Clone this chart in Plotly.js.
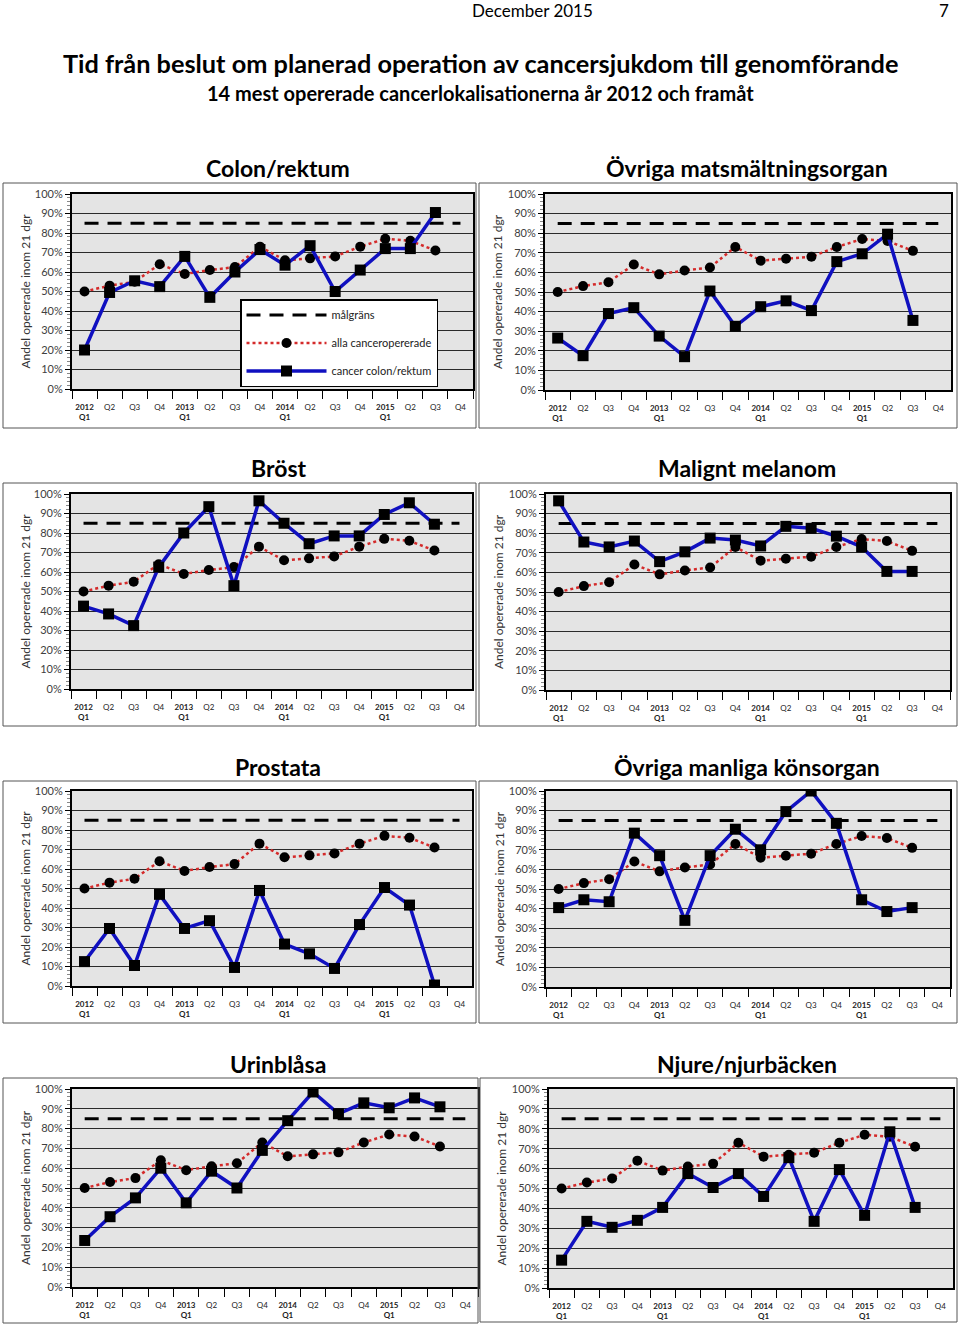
<!DOCTYPE html>
<html>
<head>
<meta charset="utf-8">
<script src="https://cdn.plot.ly/plotly-3.0.1.min.js"></script>
<style>
html,body{margin:0;padding:0;background:#fff;}
#chart{width:960px;height:1327px;}
</style>
</head>
<body>
<div id="chart"></div>
<script>
// ---------------- DATA ----------------
const quarters = ["2012 Q1","2012 Q2","2012 Q3","2012 Q4","2013 Q1","2013 Q2","2013 Q3","2013 Q4",
                  "2014 Q1","2014 Q2","2014 Q3","2014 Q4","2015 Q1","2015 Q2","2015 Q3","2015 Q4"];
const tickLabels = ["<b>2012</b><br><b>Q1</b>","Q2","Q3","Q4","<b>2013</b><br><b>Q1</b>","Q2","Q3","Q4",
                    "<b>2014</b><br><b>Q1</b>","Q2","Q3","Q4","<b>2015</b><br><b>Q1</b>","Q2","Q3","Q4"];
const malgrans = [85,85,85,85,85,85,85,85,85,85,85,85,85,85,85,85];
const allaCanceropererade = [50,53,55,64,59,61,62.5,73,66,67,68,73,77,76,71,null];

const colonRektum      = [20,49.5,55.5,52.5,68,47,60,71.5,63.5,73.5,50,61,72,72,90.5,null];
const ovrigaMatsmaltn  = [26.5,17.5,39,42,27.5,17,50.5,32.5,42.5,45.5,40.5,65.5,69.5,79.5,35.5,null];
const brost            = [42.5,38.5,32.5,62.5,80,93.5,53,96.5,85,74.5,78.5,78.5,89.5,95.5,84.5,null];
const maligntMelanom   = [96.5,75.5,73,76,65.5,70.5,77.5,76.5,73.5,83.5,82.5,78.5,73,60.5,60.5,null];
const prostata         = [12.5,29.5,10.5,47,29.5,33.5,9.5,49,21.5,16.5,9,31.5,50.5,41.5,0.5,null];
const ovrigaManliga    = [40.5,44.5,43.5,78.5,67,34,67,80.5,70,89.5,100,83.5,44.5,38.5,40.5,null];
const urinblasa        = [23.5,35.5,45,60,42.5,58.5,50,69,84,98.5,87.5,93,90.5,95.5,91,null];
const njure            = [14,33.5,30.5,34,40.5,57.5,50.5,57.5,46,65.5,33.5,59.5,36.5,78.5,40.5,null];

const panelTitles = ["Colon/rektum","Övriga matsmältningsorgan","Bröst","Malignt melanom",
                     "Prostata","Övriga manliga könsorgan","Urinblåsa","Njure/njurbäcken"];
const seriesNames = ["cancer colon/rektum","cancer övriga matsmältningsorgan","cancer bröst","malignt melanom",
                     "cancer prostata","cancer övriga manliga könsorgan","cancer urinblåsa","cancer njure/njurbäcken"];
const seriesValues = [colonRektum, ovrigaMatsmaltn, brost, maligntMelanom, prostata, ovrigaManliga, urinblasa, njure];

const headerText = "December 2015";
const pageNumber = "7";
const mainTitle = "Tid från beslut om planerad operation av cancersjukdom till genomförande";
const subTitle = "14 mest opererade cancerlokalisationerna år 2012 och framåt";
const yTitle = "Andel opererade inom 21 dgr";
const legendNames = ["målgräns","alla canceropererade"];

// ---------------- LAYOUT GEOMETRY (pixels) ----------------
const W = 960, H = 1327;
const px = x => x / W;
const py = y => 1 - y / H;
const geom = [
  {plot:[72,473,194,389],  box:[3,183,476,428],    ty:168,  yt:25,  tx:278},
  {plot:[545,951,194,390], box:[479,183,957,428],  ty:168,  yt:497, tx:747},
  {plot:[71,472,494,689],  box:[3,483,476,726],    ty:468,  yt:25,  tx:278},
  {plot:[546,950,494,690], box:[479,483,957,726],  ty:468,  yt:499, tx:747},
  {plot:[72,472,791,986],  box:[3,781,476,1023],   ty:767,  yt:25,  tx:278},
  {plot:[546,950,791,987], box:[479,781,957,1023], ty:767,  yt:499, tx:747},
  {plot:[72,478,1089,1287],box:[3,1078,478,1323],  ty:1064, yt:25,  tx:278},
  {plot:[549,953,1089,1288],box:[480,1078,957,1322],ty:1064,yt:501, tx:747}
];

const FONT = "Lato, 'Open Sans', sans-serif";
const BLUE = "#1010c0";
const RED = "#d42a2a";

const traces = [];
const layout = {
  width: W, height: H,
  margin: {l:0, r:0, t:0, b:0},
  paper_bgcolor: "#ffffff",
  plot_bgcolor: "#e4e4e4",
  font: {family: FONT, color: "#333"},
  showlegend: true,
  legend: {
    x: px(240), y: py(299), xanchor: "left", yanchor: "top",
    bgcolor: "#ffffff", bordercolor: "#000", borderwidth: 1.5,
    font: {size: 11, color: "#222", family: FONT},
    itemwidth: 80, tracegroupgap: 9, traceorder: "grouped"
  },
  shapes: [], annotations: []
};

geom.forEach((g, i) => {
  const n = i + 1;
  const xa = n === 1 ? "x" : "x" + n;
  const ya = n === 1 ? "y" : "y" + n;
  const xk = n === 1 ? "xaxis" : "xaxis" + n;
  const yk = n === 1 ? "yaxis" : "yaxis" + n;
  const first = i === 0;

  traces.push({
    x: quarters, y: malgrans, xaxis: xa, yaxis: ya, type: "scatter", mode: "lines",
    name: legendNames[0], showlegend: first, legendgroup: "g1_" + n, hoverinfo: "skip",
    line: {color: "#000", width: 3, dash: "14px,9px"}
  });
  traces.push({
    x: quarters, y: allaCanceropererade, xaxis: xa, yaxis: ya, type: "scatter", mode: "lines+markers",
    name: legendNames[1], showlegend: first, legendgroup: "g2_" + n,
    line: {color: RED, width: 2.5, dash: "dot"},
    marker: {symbol: "circle", size: 10, color: "#000"}
  });
  traces.push({
    x: quarters, y: seriesValues[i], xaxis: xa, yaxis: ya, type: "scatter", mode: "lines+markers",
    name: seriesNames[i], showlegend: first, legendgroup: "g3_" + n,
    line: {color: BLUE, width: 3.5},
    marker: {symbol: "square", size: 11, color: "#000"}
  });

  const [l, r, t, b] = g.plot;
  layout[xk] = {
    domain: [px(l), px(r)], anchor: ya, type: "category",
    categoryorder: "array", categoryarray: quarters, range: [-0.5, 15.5],
    tickmode: "array", tickvals: quarters, ticktext: tickLabels, tickangle: 0,
    tickson: "boundaries", ticks: "outside", ticklen: 8, tickwidth: 1, tickcolor: "#000",
    ticklabelstandoff: 9,
    showgrid: false, zeroline: false,
    showline: true, mirror: true, linecolor: "#000", linewidth: 2,
    tickfont: {size: 8, color: "#222", family: FONT}, fixedrange: true
  };
  layout[yk] = {
    domain: [py(b), py(t)], anchor: xa, range: [0, 100], dtick: 10, ticksuffix: "%",
    ticks: "outside", ticklen: 5, tickcolor: "#000",
    showgrid: true, gridcolor: "#2a2a2a", gridwidth: 1, zeroline: false,
    showline: true, mirror: true, linecolor: "#000", linewidth: 2,
    minor: {dtick: 2, ticks: "outside", ticklen: 3, tickcolor: "#888", showgrid: false},
    tickfont: {size: 11, color: "#404040", family: FONT}, fixedrange: true
  };

  const [bl, bt, br, bb] = g.box;
  layout.shapes.push({type: "rect", xref: "paper", yref: "paper",
    x0: px(bl), x1: px(br), y0: py(bb), y1: py(bt), line: {color: "#555", width: 1}});

  layout.annotations.push({text: "<b>" + panelTitles[i] + "</b>", xref: "paper", yref: "paper",
    x: px(g.tx), y: py(g.ty), xanchor: "center", yanchor: "middle", showarrow: false,
    font: {size: 23, color: "#000", family: FONT}});
  layout.annotations.push({text: yTitle, xref: "paper", yref: "paper", textangle: -90,
    x: px(g.yt), y: py((t + b) / 2), xanchor: "center", yanchor: "middle", showarrow: false,
    font: {size: 12, color: "#333", family: FONT}});
});

layout.annotations.push({text: headerText, xref: "paper", yref: "paper", x: px(532), y: py(11),
  xanchor: "center", yanchor: "middle", showarrow: false, font: {size: 17, color: "#000", family: FONT}});
layout.annotations.push({text: pageNumber, xref: "paper", yref: "paper", x: px(944), y: py(11),
  xanchor: "center", yanchor: "middle", showarrow: false, font: {size: 17, color: "#000", family: FONT}});
layout.annotations.push({text: "<b>" + mainTitle + "</b>", xref: "paper", yref: "paper", x: px(480), y: py(63),
  xanchor: "center", yanchor: "middle", showarrow: false, font: {size: 25.3, color: "#000", family: FONT}});
layout.annotations.push({text: "<b>" + subTitle + "</b>", xref: "paper", yref: "paper", x: px(480), y: py(93),
  xanchor: "center", yanchor: "middle", showarrow: false, font: {size: 20, color: "#000", family: FONT}});

Plotly.newPlot("chart", traces, layout, {staticPlot: true, displayModeBar: false});
</script>
</body>
</html>
